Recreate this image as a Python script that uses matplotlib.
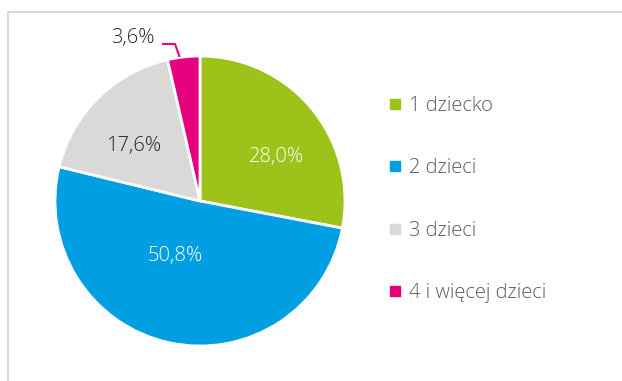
import matplotlib.pyplot as plt
from matplotlib.patches import Rectangle
from matplotlib.lines import Line2D
import numpy as np

plt.rcParams['font.family'] = ['Open Sans', 'DejaVu Sans']

labels = ['1 dziecko', '2 dzieci', '3 dzieci', '4 i więcej dzieci']
shares = [28.0, 50.8, 17.6, 3.6]
colors = ['#9DC31B', '#009FE3', '#D9D9D9', '#E6007E']
pct_colors = ['white', 'white', '#262626', '#262626']
# where each percentage label sits (pixels from the top-left corner)
pct_pos = [(277, 157), (175, 256), (134, 146), (133, 38)]

W, H = 622, 381
fig = plt.figure(figsize=(W / 100, H / 100), dpi=100)
ax = fig.add_axes([0, 0, 1, 1])
ax.axis('off')

# chart area border (runs off the right and bottom edges)
ax.add_patch(Rectangle((7.5, -20), 700, H - 11.5 + 20, fill=False,
                       edgecolor='#D9D9D9', linewidth=1.5))

cx, cy, r = 200, H - 201, 145


def fmt(p):
    return ('%.1f%%' % p).replace('.', ',')


wedges, texts, autotexts = ax.pie(
    shares, colors=colors, startangle=90, counterclock=False,
    center=(cx, cy), radius=r, autopct=fmt, pctdistance=0.6,
    wedgeprops=dict(edgecolor='white', linewidth=2),
    textprops=dict(fontsize=14.5, fontweight='light'))
for t, c, (px, py) in zip(autotexts, pct_colors, pct_pos):
    t.set_color(c)
    t.set_position((px, H - py))

# leader line from the small slice to its label
w = wedges[3]
mid = np.deg2rad((w.theta1 + w.theta2) / 2)
ex, ey = cx + r * np.cos(mid) - 4, cy + r * np.sin(mid)
ax.plot([162, 175, ex], [H - 44, H - 44, ey], color=colors[3], lw=1.5,
        solid_capstyle='butt')

ax.set_xlim(0, W)
ax.set_ylim(0, H)
ax.set_aspect('equal')

handles = [Line2D([], [], marker='s', linestyle='none', markersize=6.5,
                  markerfacecolor=c, markeredgecolor=c) for c in colors]
leg = ax.legend(handles, labels, loc='upper left', frameon=False,
                bbox_to_anchor=(369 / W, 1 - 78 / H), fontsize=14.5,
                labelspacing=2.1, handlelength=0.8, handletextpad=0.3)
for t in leg.get_texts():
    t.set_color('#595959')
    t.set_fontweight('light')

fig.savefig('out.png', dpi=100)
